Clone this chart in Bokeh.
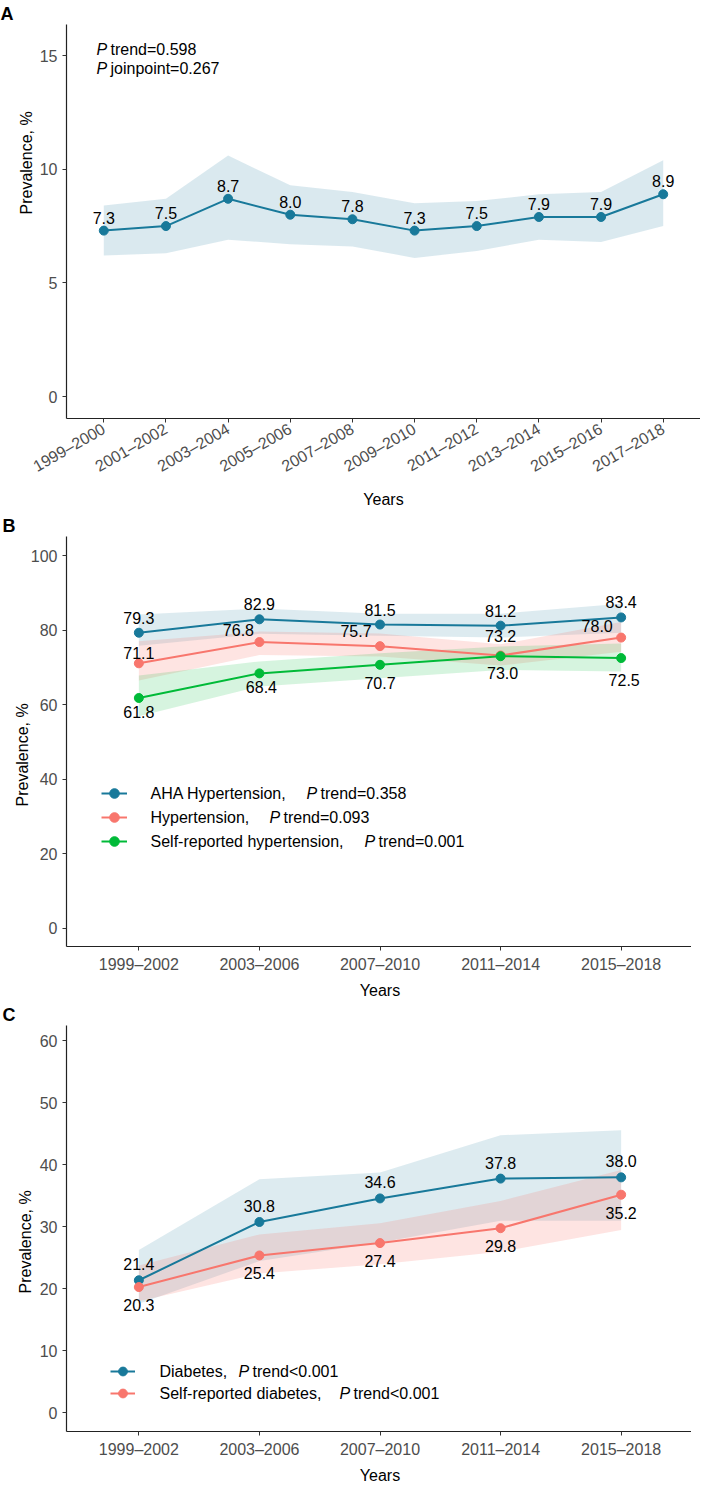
import math
from bokeh.plotting import figure
from bokeh.models import Range1d, FixedTicker, Label, Legend, LegendItem, ColumnDataSource, Title
from bokeh.layouts import column
from bokeh.embed import file_html
from bokeh.resources import INLINE
from bokeh.core.properties import value

# ---------------- data ----------------
cycles_a = ["1999–2000", "2001–2002", "2003–2004", "2005–2006", "2007–2008",
            "2009–2010", "2011–2012", "2013–2014", "2015–2016", "2017–2018"]
prev_a = [7.3, 7.5, 8.7, 8.0, 7.8, 7.3, 7.5, 7.9, 7.9, 8.9]
lower_a = [6.2, 6.3, 6.9, 6.7, 6.6, 6.1, 6.4, 6.9, 6.8, 7.5]
upper_a = [8.4, 8.7, 10.6, 9.3, 9.0, 8.5, 8.6, 8.9, 9.0, 10.4]
yticks_a = [0, 5, 10, 15]
p_trend_a = "0.598"
p_joinpoint_a = "0.267"

cycles_b = ["1999–2002", "2003–2006", "2007–2010", "2011–2014", "2015–2018"]
aha_htn = [79.3, 82.9, 81.5, 81.2, 83.4]
aha_htn_lo = [75.8, 79.0, 78.5, 78.0, 79.3]
aha_htn_hi = [84.2, 85.8, 84.4, 84.4, 87.1]
htn = [71.1, 76.8, 75.7, 73.2, 78.0]
htn_lo = [66.5, 73.3, 72.9, 70.5, 74.2]
htn_hi = [77.0, 79.6, 79.1, 76.2, 82.2]
sr_htn = [61.8, 68.4, 70.7, 73.0, 72.5]
sr_htn_lo = [56.9, 64.9, 67.1, 69.3, 68.9]
sr_htn_hi = [67.8, 71.6, 73.8, 75.6, 76.4]
yticks_b = [0, 20, 40, 60, 80, 100]
legend_b = ["AHA Hypertension,", "Hypertension,", "Self-reported hypertension,"]
ptrend_b = ["=0.358", "=0.093", "=0.001"]

cycles_c = ["1999–2002", "2003–2006", "2007–2010", "2011–2014", "2015–2018"]
dm = [21.4, 30.8, 34.6, 37.8, 38.0]
dm_lo = [17.6, 24.5, 27.5, 31.0, 31.0]
dm_hi = [26.3, 37.7, 38.8, 44.8, 45.6]
sr_dm = [20.3, 25.4, 27.4, 29.8, 35.2]
sr_dm_lo = [18.0, 22.5, 24.0, 26.0, 29.5]
sr_dm_hi = [23.8, 28.8, 30.6, 34.2, 39.2]
yticks_c = [0, 10, 20, 30, 40, 50, 60]
legend_c = ["Diabetes,", "Self-reported diabetes,"]
ptrend_c = ["<0.001", "<0.001"]

# ---------------- style ----------------
FONT = "Liberation Sans"
FS = "16px"
BLUE = "#18799A"
RED = "#F8766D"
GREEN = "#00BA38"


def style(p):
    p.grid.visible = False
    p.outline_line_color = None
    for ax in p.axis:
        ax.axis_line_color = "#222222"
        ax.axis_line_width = 1.2
        ax.major_tick_line_color = "#333333"
        ax.major_tick_out = 4
        ax.major_tick_in = 0
        ax.minor_tick_line_color = None
        ax.major_label_text_font = FONT
        ax.major_label_text_font_size = FS
        ax.major_label_text_color = "#4d4d4d"
        ax.axis_label_text_font = FONT
        ax.axis_label_text_font_size = FS
        ax.axis_label_text_font_style = "normal"
        ax.axis_label_text_color = "black"


def lab(p, x, y, text, size=FS, style_="normal"):
    p.add_layout(Label(x=x, y=y, x_units="screen", y_units="screen", text=text,
                       text_font=FONT, text_font_size=size, text_font_style=style_,
                       text_color="black", text_align="left", text_baseline="middle"))


def titles(p, letter, letter_offset, ylab_offset, ylab_standoff):
    p.add_layout(Title(text=letter, align="left", offset=letter_offset, standoff=2,
                       text_font=FONT, text_font_size="18px", text_font_style="bold",
                       text_color="black"), "above")
    # y-axis title: align "left" so that offset = distance from the frame bottom
    p.add_layout(Title(text="Prevalence, %", align="left", offset=ylab_offset,
                       standoff=ylab_standoff, text_font=FONT, text_font_size=FS,
                       text_font_style="normal", text_color="black"), "left")


def series(p, xs, ys, lo, hi, color, band_alpha, dx, dy):
    src = ColumnDataSource(dict(x=xs, y=ys, lo=lo, hi=hi,
                                t=[f"{v:.1f}" for v in ys], dx=dx, dy=dy))
    p.varea(x="x", y1="lo", y2="hi", source=src, fill_color=color, fill_alpha=band_alpha)
    return src


def draw(p, src, color):
    rl = p.line(x="x", y="y", source=src, line_color=color, line_width=2)
    rp = p.scatter(x="x", y="y", source=src, size=9, fill_color=color, line_color=color)
    p.text(x="x", y="y", text="t", source=src, x_offset="dx", y_offset="dy",
           text_align="center", text_baseline="middle", text_font=value(FONT),
           text_font_size=FS, text_color="black")
    return rl, rp


def xaxis_cat(p, cats):
    p.xaxis.ticker = FixedTicker(ticks=list(range(len(cats))))
    p.xaxis.major_label_overrides = {i: c for i, c in enumerate(cats)}
    p.xaxis.axis_label = "Years"


# ---------------- panel A ----------------
xa = list(range(len(cycles_a)))
pA = figure(frame_width=634, frame_height=394, min_border_left=66, min_border_right=0,
            min_border_top=23, min_border_bottom=88,
            x_range=Range1d(-0.6, len(cycles_a) - 0.4), y_range=Range1d(-0.968, 16.37),
            output_backend="svg", toolbar_location=None)
style(pA)
xaxis_cat(pA, cycles_a)
pA.xaxis.major_label_orientation = math.pi / 6
pA.xaxis.axis_label_standoff = 6
pA.yaxis.ticker = FixedTicker(ticks=yticks_a)
titles(pA, "A", -66, 204, 4)
sA = series(pA, xa, prev_a, lower_a, upper_a, BLUE, 0.16, [0] * len(xa), [-13] * len(xa))
draw(pA, sA, BLUE)
lab(pA, 30, 369, "P", style_="italic")
lab(pA, 44, 369, "trend=" + p_trend_a)
lab(pA, 30, 350, "P", style_="italic")
lab(pA, 44, 350, "joinpoint=" + p_joinpoint_a)

# ---------------- panel B ----------------
xb = list(range(len(cycles_b)))
pB = figure(frame_width=627, frame_height=410, min_border_left=64, min_border_right=0,
            min_border_top=25, min_border_bottom=55,
            x_range=Range1d(-0.6, len(cycles_b) - 0.4), y_range=Range1d(-4.83, 105.1),
            output_backend="svg", toolbar_location=None)
style(pB)
xaxis_cat(pB, cycles_b)
pB.xaxis.axis_label_standoff = 6
pB.yaxis.ticker = FixedTicker(ticks=yticks_b)
titles(pB, "B", -64, 140, -6)
s1 = series(pB, xb, aha_htn, aha_htn_lo, aha_htn_hi, BLUE, 0.15, [0] * 5, [-15] * 5)
s2 = series(pB, xb, htn, htn_lo, htn_hi, RED, 0.2, [0, -21, -24, 0, -24], [-10, -12, -15, -19, -12])
s3 = series(pB, xb, sr_htn, sr_htn_lo, sr_htn_hi, GREEN, 0.16, [0, 2, 0, 2, 3], [14, 14, 18, 17, 22])
rb = [draw(pB, s1, BLUE), draw(pB, s2, RED), draw(pB, s3, GREEN)]
legB = Legend(items=[LegendItem(label=value(" "), renderers=list(r)) for r in rb],
              location=(45, 93), padding=0, margin=0, spacing=0, glyph_width=26,
              glyph_height=24, label_height=24, label_width=1, label_standoff=0,
              border_line_color=None, background_fill_alpha=0, label_text_font_size="6px")
pB.add_layout(legB)
rows_b = [153, 129, 105]
p_x_b = [240, 203, 298]
for name, pt, yy, px in zip(legend_b, ptrend_b, rows_b, p_x_b):
    lab(pB, 84, yy, name)
    lab(pB, px, yy, "P", style_="italic")
    lab(pB, px + 14, yy, "trend" + pt)

# ---------------- panel C ----------------
xc = list(range(len(cycles_c)))
pC = figure(frame_width=627, frame_height=406, min_border_left=64, min_border_right=0,
            min_border_top=18, min_border_bottom=50,
            x_range=Range1d(-0.6, len(cycles_c) - 0.4), y_range=Range1d(-3.0, 62.5),
            output_backend="svg", toolbar_location=None)
style(pC)
xaxis_cat(pC, cycles_c)
pC.xaxis.axis_label_standoff = 6
pC.yaxis.ticker = FixedTicker(ticks=yticks_c)
titles(pC, "C", -64, 138, 6)
c1 = series(pC, xc, dm, dm_lo, dm_hi, BLUE, 0.15, [0] * 5, [-16] * 5)
c2 = series(pC, xc, sr_dm, sr_dm_lo, sr_dm_hi, RED, 0.2, [0] * 5, [18] * 5)
rc = [draw(pC, c1, BLUE), draw(pC, c2, RED)]
legC = Legend(items=[LegendItem(label=value(" "), renderers=list(r)) for r in rc],
              location=(52, 27), padding=0, margin=0, spacing=0, glyph_width=25,
              glyph_height=22, label_height=22, label_width=1, label_standoff=0,
              border_line_color=None, background_fill_alpha=0, label_text_font_size="6px")
pC.add_layout(legC)
rows_c = [60, 38]
p_x_c = [172, 273]
for name, pt, yy, px in zip(legend_c, ptrend_c, rows_c, p_x_c):
    lab(pC, 93, yy, name)
    lab(pC, px, yy, "P", style_="italic")
    lab(pC, px + 14, yy, "trend" + pt)

layout = column(pA, pB, pC, spacing=0)
open("out.html", "w").write(file_html(layout, INLINE))
